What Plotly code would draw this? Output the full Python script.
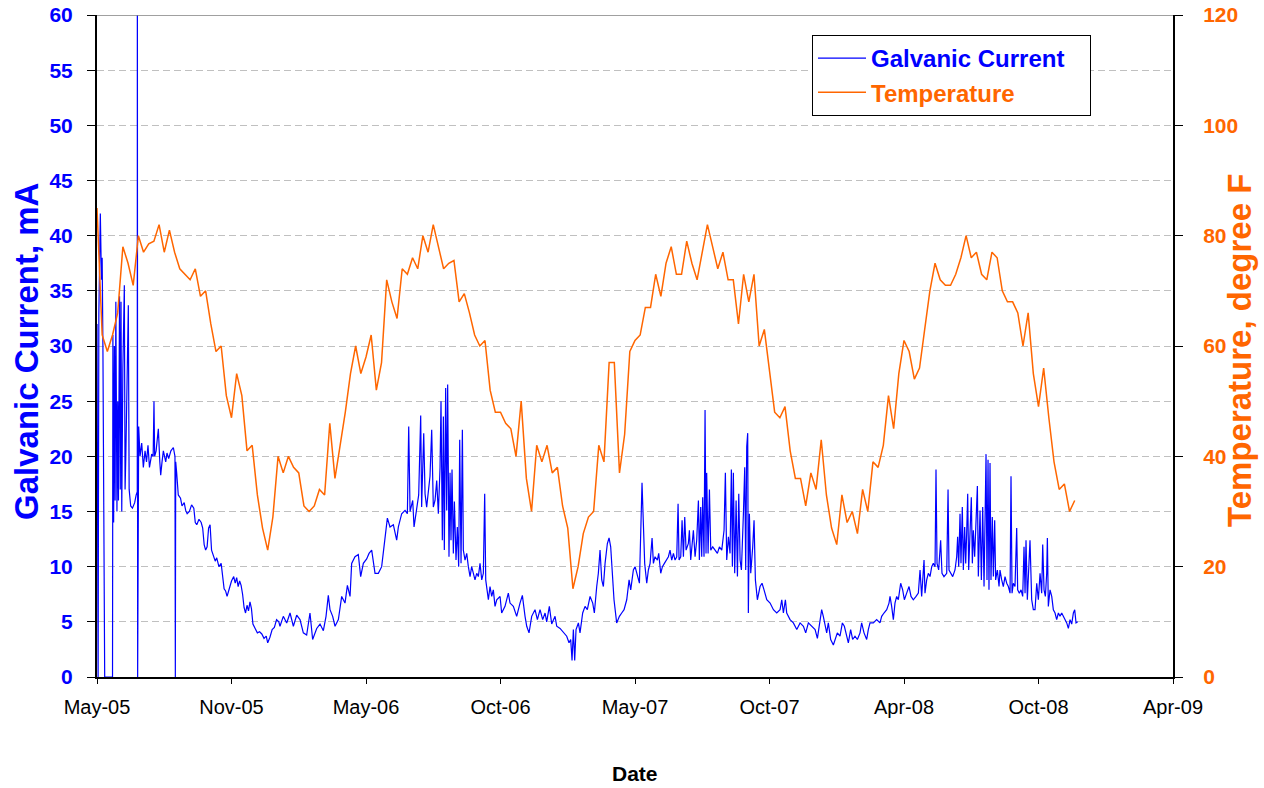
import numpy as np
import pandas as pd
import plotly.graph_objects as go

# ---------------- data ----------------
START = pd.Timestamp("2005-05-03")          # left edge of the date axis
TICK_STEP_DAYS = 182                         # major unit of the date axis
tick_labels = ["May-05", "Nov-05", "May-06", "Oct-06", "May-07",
               "Oct-07", "Apr-08", "Oct-08", "Apr-09"]

# weekly temperature readings (degree F), one value every 7 days from START
temperature_F = [
    85, 62, 59, 62, 66, 78, 75, 71, 80, 77,
    78.5, 79, 82, 77, 81, 77, 74, 73, 72, 74,
    69, 70, 64, 59, 60, 51, 47, 55, 51, 41,
    42, 33, 27, 23, 29, 40, 37, 40, 38, 37,
    31, 30, 31, 34, 33, 46, 36, 42, 48, 55,
    60, 55, 58, 62, 52, 57, 72, 68, 65, 74,
    73, 76, 74, 80, 77, 82, 78, 74, 75, 75.5,
    68, 69.5, 66, 62, 60, 61, 52, 48, 48, 46,
    45, 40, 50, 36, 30, 42, 39, 42, 37, 38,
    31, 27, 16, 20, 26, 29, 30, 42, 39, 57,
    57, 37, 44, 59, 61, 62, 67, 67, 73, 69,
    75, 78, 73, 73, 79, 75, 72, 77, 82, 78,
    74, 77, 72, 72, 64, 73, 68, 73, 60, 63,
    55, 48, 47, 49, 41, 36, 36, 31, 37, 34,
    43, 33, 27, 24, 33, 28, 30, 26, 34, 30,
    39, 38, 42, 51, 45, 55, 61, 59, 54, 56,
    63, 70, 75, 72, 71, 71, 73, 76, 80, 76,
    77, 73, 72, 77, 76, 70, 68, 68, 66, 60,
    66, 55, 49, 56, 47, 39, 34, 35, 30, 32,
]
TEMP_STEP_DAYS = 7

# galvanic current readings: day offset from START and value (mA)
current_day = [
    0, 1.5, 2.5, 4.5, 6, 7, 8, 8.8, 9.5, 10.4,
    21, 21.5, 22.5, 23.5, 24.5, 25.5, 27, 28, 29, 30.5,
    31.5, 32.5, 33.5, 35, 37, 38, 39, 42.4, 43.5, 45.6,
    48, 51, 53, 54.5, 54.6, 55, 56.4, 58.2, 60.5, 62.7,
    65, 67, 69, 71, 74, 76, 77.1, 78, 80, 83,
    85, 86.2, 88, 89.8, 93, 94.7, 97, 100, 103.3, 105.5,
    106, 106.5, 107.8, 110, 113, 115, 118, 120, 122, 125,
    128, 131, 133, 135, 138, 141, 143, 145, 147, 149,
    151, 153, 155, 157, 160, 162, 165, 168, 170, 172,
    174, 176, 179, 182, 185, 187, 189, 191, 193, 195,
    197, 199, 201, 203, 205, 207, 209, 211, 214, 217,
    220, 223, 226, 229, 231, 234, 237, 240, 243, 246,
    247.6, 252.1, 256.7, 261.2, 265.7, 270.2, 274.7, 279.2, 283.7, 288.2,
    291.8, 297.3, 301.8, 306.3, 309.9, 313.0, 315.3, 318.9, 322.1, 326.6,
    331.1, 335.6, 338.8, 342.4, 344.6, 349.1, 353.6, 356.8, 360.4, 364.9,
    368.1, 371.7, 376.2, 380.7, 385.2, 389.7, 392.9, 396.5, 401.0, 405.5,
    407.8, 412.3, 416.8, 420.0, 421.8, 423.6, 427.2, 429.0, 432.6, 435.3,
    438.0, 439.3, 442.1, 443.9, 446.1, 448.4, 450.6, 452.9, 455.1, 457.4,
    459.7, 461.9, 464.2, 465.5, 467.3, 468.7, 470.0, 471.8, 473.2, 474.5,
    476.3, 477.7, 479.0, 480.4, 482.2, 483.6, 485.8, 487.6, 489.4, 490.8,
    492.6, 494.4, 495.7, 498.0, 500.3, 502.5, 504.8, 507.0, 509.3, 511.5,
    513.8, 516.0, 518.3, 520.6, 522.8, 524.6, 526.0, 527.3, 529.6, 531.8,
    534.1, 536.3, 538.6, 540.9, 545.4, 547.6, 552.1, 556.6, 558.9, 563.4,
    567.9, 572.4, 575.6, 579.2, 581.5, 584.6, 588.2, 592.7, 595.9, 599.5,
    603.1, 606.3, 608.5, 612.1, 615.3, 619.8, 622.1, 626.6, 631.1, 635.6,
    638.7, 641.0, 642.8, 644.6, 646.4, 648.2, 651.4, 653.6, 657.2, 660.4,
    663.5, 667.2, 670.8, 673.0, 676.2, 678.4, 680.7, 683.0, 685.2, 687.5,
    690.6, 692.9, 695.1, 697.4, 699.6, 703.2, 706.9, 710.0, 713.2, 716.8,
    720.0, 722.2, 725.8, 728.1, 731.2, 734.0,
    737.5, 739.3, 741.1, 743.9, 746.1, 748.4, 751.1, 752.9, 755.1, 758.3,
    760.1, 762.8, 765.1, 767.8, 770.9, 773.2, 775.4, 777.7, 780.0, 782.2,
    784.5, 786.3, 787.6, 789.9, 791.7, 793.5, 795.3, 797.1, 800.2, 801.6,
    803.4, 806.1, 807.0, 809.3, 811.5, 813.8, 815.1, 816.9, 818.3, 819.6,
    821.4, 822.8, 824.1, 825.0, 826.9, 828.7, 830.5, 833.2, 836.3, 839.5,
    842.2, 845.4, 848.5, 850.3, 852.1, 854.4, 856.6, 858.4, 859.8, 861.1,
    862.9, 864.8, 866.6, 868.4, 870.2, 872.0, 874.7, 876.5, 877.8, 879.2,
    880.5, 881.4, 882.8, 884.6, 887.3, 889.1, 890.9, 893.6, 897.2, 899.9,
    902.6, 906.3, 910.8, 915.3, 919.8, 924.3, 926.6, 928.8, 931.5, 933.3,
    937.8, 942.3, 946.9, 951.4, 955.9, 959.0, 962.6, 967.2, 971.7, 974.8,
    978.3, 980.6, 982.8, 985.1, 987.4, 989.6, 992.8, 996.4, 998.6, 1001.8,
    1005.4, 1008.6, 1011.3, 1014.4, 1016.7, 1019.8, 1022.5, 1025.7, 1028.9, 1032.5,
    1034.7, 1037.9, 1041.5, 1043.7, 1046.0, 1050.5, 1055.0, 1059.5, 1061.8, 1064.9,
    1068.6, 1071.7, 1073.1, 1075.3, 1077.6, 1079.8, 1082.1, 1084.3, 1087.5, 1090.2,
    1092.5, 1095.6, 1098.8, 1101.5, 1104.6, 1108.3, 1111.4, 1113.7, 1115.9, 1119.1,
    1120.4, 1122.7, 1124.9, 1127.2, 1129.5, 1131.7, 1134.0, 1135.3, 1136.7, 1138.9,
    1141.6, 1143.4, 1146.1, 1149.8, 1151.6, 1152.9, 1155.2, 1157.9, 1161.0, 1163.3,
    1164.6, 1166.0, 1167.8, 1169.1, 1170.9, 1172.3, 1174.1, 1175.5, 1176.8, 1178.2,
    1179.5, 1181.3, 1183.1, 1184.5, 1185.8, 1187.6, 1189.4, 1191.3, 1192.6, 1194.9,
    1196.7, 1198.5, 1200.3, 1201.6, 1203.0, 1204.3, 1205.7, 1207.0, 1208.4, 1209.7,
    1211.5, 1212.9, 1214.7, 1216.0, 1218.3, 1220.6,
    1221.9, 1224.2, 1226.4, 1228.7, 1231.0, 1233.2, 1235.5, 1236.8, 1238.2, 1240.0,
    1242.2, 1244.5, 1245.8, 1248.1, 1250.4, 1252.6, 1254.4, 1255.8, 1257.1, 1258.9,
    1260.7, 1262.5, 1264.8, 1267.0, 1269.3, 1271.6, 1273.8, 1276.1, 1278.3, 1279.7,
    1281.5, 1283.3, 1285.1, 1286.0, 1287.3, 1289.6, 1291.9, 1294.1, 1296.4, 1298.6,
    1300.9, 1303.1, 1305.4, 1307.6, 1309.9, 1312.2, 1314.4, 1316.7, 1318.9, 1321.2,
    1323.0, 1324.8, 1327.0,
]
current_mA = [
    32, 0, 33, 42, 36, 38, 30, 17, 20, 0,
    0, 31, 14, 30, 16, 34, 15, 25, 16, 34.5,
    17, 34, 15, 28, 35.5, 17, 20, 33.7, 17, 15.5,
    15.3, 15.8, 16.5, 16.8, 70, 0, 22.7, 20, 21.2, 19,
    20.5, 19.5, 21, 19, 20.2, 20, 25, 20, 20.5, 22.5,
    19.5, 18.3, 19.5, 20.5, 19.5, 20.3, 19.8, 20.5, 20.8, 20,
    0, 19.5, 18.5, 16.5, 16.2, 15.5, 15.8, 15.1, 14.8, 15,
    15.6, 15.3, 14, 13.8, 14.3, 14, 13.5, 12, 11.5, 11.8,
    13.5, 13.8, 11.5, 11, 10.5, 10.8, 10, 10.3, 9.3, 8,
    7.8, 7.3, 8, 8.7, 9.1, 8.5, 9, 8.2, 8.7, 8.3,
    7.5, 6.3, 5.8, 6.5, 6, 6.8, 6.2, 4.8, 4.4, 4,
    4.1, 3.9, 3.5, 3.7, 3.1, 3.6, 4.3, 4.5, 5.2, 5,
    4.6, 5.5, 4.9, 5.8, 4.6, 5.6, 5.2, 4.0, 3.8, 5.8,
    3.4, 4.4, 4.8, 4.2, 5.5, 7.4, 6.1, 5.5, 4.6, 5.2,
    7.3, 6.7, 8.3, 7.3, 10.3, 10.9, 11.1, 9.1, 10.3, 10.7,
    11.2, 11.5, 9.4, 9.4, 10.0, 12.4, 14.4, 13.6, 13.8, 12.4,
    13.6, 14.8, 15.1, 14.8, 22.7, 15.0, 16.0, 13.6, 15.1, 16.5,
    23.7, 15.4, 22.1, 16.6, 15.4, 16.9, 18.2, 22.4, 15.4, 16.0,
    17.8, 14.8, 19.0, 25.0, 12.4, 23.6, 11.5, 26.2, 15.1, 26.5,
    10.9, 18.5, 12.4, 18.8, 11.2, 15.9, 10.6, 13.6, 10.0, 21.5,
    10.3, 22.4, 11.5, 10.6, 11.2, 10.0, 9.1, 10.0, 9.4, 8.8,
    9.4, 9.1, 10.3, 8.8, 9.4, 16.6, 8.8, 8.2, 7.0, 8.2,
    7.3, 7.9, 6.4, 7.0, 7.3, 5.8, 6.4, 7.6, 6.7, 6.4,
    5.5, 6.7, 7.4, 5.5, 4.6, 4.0, 5.5, 6.1, 5.2, 6.1,
    5.2, 5.8, 5.0, 6.4, 4.8, 5.5, 4.6, 4.4, 4.0, 3.7,
    3.1, 3.4, 1.5, 4.3, 1.5, 4.3, 4.9, 4.0, 5.8, 6.4,
    6.1, 7.3, 6.7, 5.8, 8.2, 9.4, 11.5, 8.8, 8.2, 10.3,
    12.1, 12.6, 11.8, 8.8, 7.0, 4.9, 5.5, 5.8, 6.1, 7.0,
    8.8, 7.9, 9.7, 10.0, 9.1, 8.5,
    17.6, 14.5, 10.3, 8.5, 9.7, 10.3, 12.6, 10.3, 10.9, 10.6,
    11.2, 9.4, 10.0, 10.3, 10.6, 10.9, 11.5, 10.6, 11.2, 10.6,
    10.9, 15.7, 10.6, 10.9, 14.2, 10.9, 14.5, 11.5, 12.1, 13.3,
    10.6, 12.4, 13.3, 10.9, 12.4, 16.0, 10.6, 15.4, 10.9, 16.3,
    10.9, 24.2, 11.2, 18.5, 11.2, 17.0, 11.5, 11.8, 11.5, 11.2,
    11.8, 11.5, 13.3, 18.5, 10.6, 12.7, 11.2, 18.8, 10.0, 18.5,
    9.4, 16.0, 9.1, 16.6, 10.6, 9.7, 14.8, 19.0, 9.7, 20.9,
    22.1, 5.8, 14.8, 9.4, 11.8, 14.2, 8.8, 7.0, 8.2, 8.5,
    7.9, 7.0, 6.7, 6.1, 5.8, 6.1, 7.0, 5.8, 7.0, 5.8,
    5.2, 4.9, 4.3, 4.9, 4.6, 4.0, 4.9, 4.6, 4.3, 3.5,
    4.9, 6.1, 5.5, 4.6, 4.0, 4.9, 3.4, 2.9, 3.4, 4.0,
    3.7, 4.9, 4.6, 3.7, 3.1, 4.3, 3.4, 3.7, 3.4, 4.0,
    4.9, 4.0, 3.4, 4.3, 4.9, 4.9, 5.2, 4.9, 5.5, 5.8,
    6.1, 6.7, 7.3, 6.4, 5.2, 6.7, 7.3, 7.0, 8.5, 7.9,
    7.0, 7.6, 8.2, 7.3, 7.0, 7.3, 7.6, 9.7, 7.3, 10.6,
    7.6, 8.8, 9.4, 9.1, 10.0, 10.3, 10.0, 18.8, 10.3, 9.7,
    12.4, 9.4, 9.1, 9.4, 17.0, 9.7, 9.4, 9.1, 9.7, 10.9,
    12.7, 10.0, 14.8, 10.3, 15.4, 9.7, 13.6, 10.3, 13.0, 16.6,
    9.7, 12.4, 16.3, 10.3, 13.3, 10.9, 14.5, 17.3, 9.1, 15.1,
    8.8, 15.4, 8.2, 13.0, 20.2, 8.8, 19.7, 7.9, 19.4, 8.8,
    14.5, 9.1, 14.2, 8.8, 9.7, 8.2,
    9.7, 8.8, 8.2, 9.1, 8.5, 8.2, 7.6, 18.2, 7.6, 8.5,
    8.2, 13.5, 7.9, 7.6, 7.9, 7.3, 11.8, 7.6, 12.4, 7.0,
    10.0, 12.4, 7.0, 6.1, 6.1, 8.5, 7.0, 9.4, 7.6, 12.0,
    7.9, 7.3, 9.4, 12.6, 6.4, 7.9, 7.3, 6.1, 5.8, 5.2,
    5.8, 5.5, 5.8, 5.5, 5.2, 4.9, 4.4, 5.2, 4.8, 5.8,
    6.1, 4.9, 5.0,
]

# ---------------- derived x values ----------------
current_dates = START + pd.to_timedelta(np.array(current_day, dtype=float), unit="D")
temperature_dates = START + pd.to_timedelta(
    TEMP_STEP_DAYS * np.arange(len(temperature_F)), unit="D")
tick_dates = [START + pd.Timedelta(days=TICK_STEP_DAYS * i) for i in range(len(tick_labels))]
x_end = tick_dates[-1]

BLUE = "#0000FF"
ORANGE = "#FF6600"
FONT = "Liberation Sans, Arial, sans-serif"
NBSP = "\u00a0"

fig = go.Figure()
fig.add_trace(go.Scatter(
    x=current_dates, y=current_mA, mode="lines", yaxis="y",
    name='<span style="color:#0000FF">Galvanic Current' + NBSP * 3 + '</span>',
    legendgroup="a",
    line=dict(color=BLUE, width=1.2),
))
fig.add_trace(go.Scatter(
    x=temperature_dates, y=temperature_F, mode="lines", yaxis="y2",
    name='<span style="color:#FF6600">Temperature</span>',
    legendgroup="b",
    line=dict(color=ORANGE, width=1.5),
))

fig.update_layout(
    width=1264, height=788,
    margin=dict(l=97, r=91, t=15, b=111, autoexpand=False),
    paper_bgcolor="white", plot_bgcolor="white",
    font=dict(family=FONT, color="black"),
    showlegend=True,
    legend=dict(
        x=(812 - 97) / 1076, y=(677 - 35) / 662, xanchor="left", yanchor="top",
        bgcolor="white", bordercolor="black", borderwidth=1,
        font=dict(size=24, family=FONT, weight="bold"),
        traceorder="grouped", tracegroupgap=0, itemwidth=48,
    ),
    xaxis=dict(
        type="date", range=[START, x_end], automargin=False,
        tickmode="array", tickvals=tick_dates, ticktext=tick_labels,
        ticks="outside", ticklen=5, tickcolor="black", tickwidth=1,
        showline=True, linecolor="black", linewidth=2,
        showgrid=False, zeroline=False,
        tickfont=dict(size=20, color="black", family=FONT),
        ticklabelstandoff=6, ticklabeloverflow="allow",
    ),
    yaxis=dict(
        range=[0, 60], tick0=0, dtick=5, automargin=False,
        showgrid=True, gridcolor="#C0C0C0", gridwidth=1, griddash="7px,4px",
        showline=True, linecolor="black", linewidth=2,
        ticks="outside", ticklen=8, tickcolor="black", tickwidth=1,
        zeroline=False,
        tickfont=dict(size=21, color=BLUE, family=FONT, weight="bold"),
        ticklabelstandoff=10, ticklabeloverflow="allow",
    ),
    yaxis2=dict(
        overlaying="y", side="right", automargin=False,
        range=[0, 120], tick0=0, dtick=20,
        showgrid=False, zeroline=False,
        showline=True, linecolor="black", linewidth=2,
        ticks="outside", ticklen=8, tickcolor="black", tickwidth=1,
        tickfont=dict(size=21, color=ORANGE, family=FONT, weight="bold"),
        ticklabelstandoff=16, ticklabeloverflow="allow",
    ),
    shapes=[dict(type="line", xref="paper", x0=0, x1=1, yref="y", y0=60, y1=60,
                 line=dict(color="#808080", width=1.5), layer="above")],
    annotations=[
        dict(text="Galvanic Current, mA", xref="paper", yref="paper",
             x=(26 - 97) / 1076, y=(677 - 352) / 662, xanchor="center", yanchor="middle",
             textangle=-90, showarrow=False,
             font=dict(size=33, color=BLUE, family=FONT, weight="bold")),
        dict(text="Temperature, degree F", xref="paper", yref="paper",
             x=(1239 - 97) / 1076, y=(677 - 351) / 662, xanchor="center", yanchor="middle",
             textangle=-90, showarrow=False,
             font=dict(size=33, color=ORANGE, family=FONT, weight="bold")),
        dict(text="Date", xref="paper", yref="paper",
             x=0.5, y=(677 - 773) / 662, xanchor="center", yanchor="middle",
             showarrow=False,
             font=dict(size=21, color="black", family=FONT, weight="bold")),
    ],
)

# place the figure at the page origin (remove the browser's default body margin)
fig.write_html("out.html",
               config={"displayModeBar": False},
               post_script="document.body.style.margin='0px';")
